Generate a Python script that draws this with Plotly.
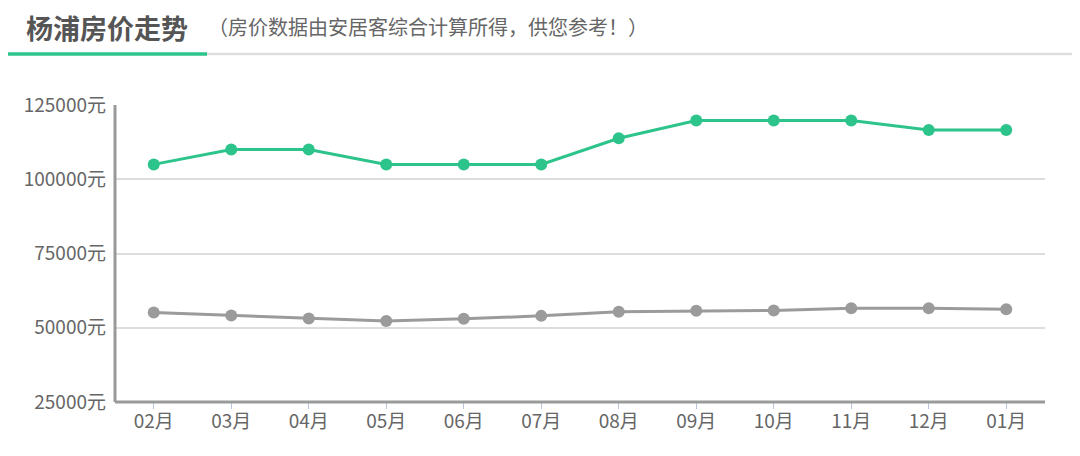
import plotly.graph_objects as go

months = ["02月", "03月", "04月", "05月", "06月", "07月", "08月", "09月", "10月", "11月", "12月", "01月"]
district_prices = [105000, 110000, 110000, 105000, 105000, 105000, 113800, 119800, 119800, 119800, 116600, 116600]
city_prices = [55100, 54100, 53100, 52300, 53000, 54000, 55400, 55700, 55800, 56600, 56600, 56200]
y_ticks = [25000, 50000, 75000, 100000, 125000]
y_tick_labels = [f"{v}元" for v in y_ticks]

title_text = "杨浦房价走势"
subtitle_text = "（房价数据由安居客综合计算所得，供您参考！）"

GREEN = "#2dc48b"
GRAY = "#9b9b9b"
FONT = "Noto Sans CJK SC, Noto Sans, sans-serif"

# page body has an 8px offset; work in screen pixels and convert
OFF = 8
W, H = 1080, 456
L, T = 115 - OFF, 105 - OFF
pw, ph = 930, 297
R = W - L - pw
B = H - T - ph

def px(x):
    return (x - OFF - L) / pw

def py(y):
    return (T + ph - (y - OFF)) / ph

fig = go.Figure()
fig.add_trace(go.Scatter(
    x=months, y=district_prices, mode="lines+markers",
    line=dict(color=GREEN, width=3),
    marker=dict(color=GREEN, size=12),
    hoverinfo="skip", showlegend=False,
))
fig.add_trace(go.Scatter(
    x=months, y=city_prices, mode="lines+markers",
    line=dict(color=GRAY, width=3),
    marker=dict(color=GRAY, size=12),
    hoverinfo="skip", showlegend=False,
))

fig.update_layout(
    width=W, height=H,
    margin=dict(l=L, r=R, t=T, b=B),
    paper_bgcolor="white", plot_bgcolor="white",
    font=dict(family=FONT, color="#666666"),
    xaxis=dict(
        type="category", showgrid=False, zeroline=False,
        showline=False,
        ticks="outside", ticklen=6, tickwidth=1, tickcolor="#b8c4d8",
        tickfont=dict(size=19, color="#666666"),
        ticklabelstandoff=-4,
        range=[-0.5, len(months) - 0.5],
        fixedrange=True,
    ),
    yaxis=dict(
        range=[25000, 125000],
        tickvals=y_ticks, ticktext=y_tick_labels,
        showgrid=True, gridcolor="#dddddd", gridwidth=1.5,
        zeroline=False, showline=False, ticks="",
        tickfont=dict(size=19, color="#666666"),
        ticklabelstandoff=8,
        fixedrange=True,
    ),
    shapes=[
        dict(type="line", xref="paper", yref="paper", x0=0, x1=0, y0=0, y1=1,
             line=dict(color="#999999", width=3)),
        dict(type="line", xref="paper", yref="paper", x0=0, x1=1, y0=0, y1=0,
             line=dict(color="#999999", width=3)),
        dict(type="line", xref="paper", yref="paper", x0=px(205), x1=px(W + OFF), y0=py(54), y1=py(54),
             line=dict(color="#dddddd", width=2.5)),
        dict(type="line", xref="paper", yref="paper", x0=px(OFF), x1=px(207), y0=py(54), y1=py(54),
             line=dict(color=GREEN, width=3.5)),
    ],
    annotations=[
        dict(text=f"<b>{title_text}</b>", xref="paper", yref="paper",
             x=px(24), y=py(27), xanchor="left", yanchor="middle", showarrow=False,
             font=dict(size=27, color="#555555", family=FONT)),
        dict(text=subtitle_text, xref="paper", yref="paper",
             x=px(206), y=py(26), xanchor="left", yanchor="middle", showarrow=False,
             font=dict(size=20, color="#666666", family=FONT)),
    ],
)

fig.write_html("out.html")
